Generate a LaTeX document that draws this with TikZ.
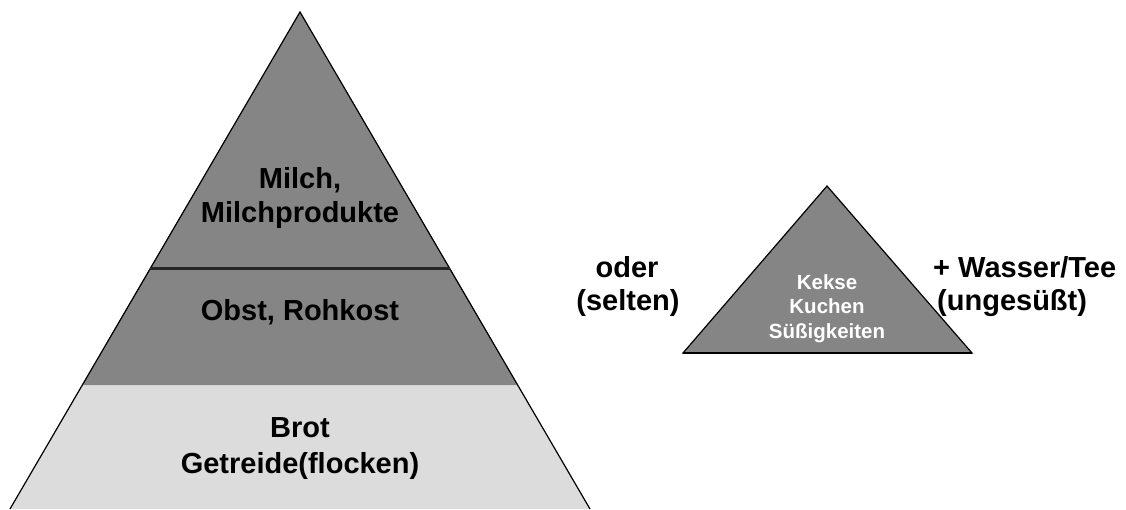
\documentclass[tikz,border=0pt]{standalone}
\usepackage{fontspec}
\setmainfont{Liberation Sans}
\usetikzlibrary{positioning}
\definecolor{pyrgray}{HTML}{858585}
\definecolor{pyrlight}{HTML}{DCDCDC}
\tikzset{
  big/.style={font=\fontsize{29}{34}\selectfont\bfseries, inner sep=0pt, anchor=base},
  small/.style={font=\fontsize{20.5}{24}\selectfont\bfseries, text=white, inner sep=0pt, anchor=base},
  edge/.style={draw=black, line width=1.2pt, line join=miter}
}

\begin{document}
\begin{tikzpicture}[x=1pt, y=-1pt]
\useasboundingbox (0,0) rectangle (1126,509);

% big pyramid
\coordinate (apex) at (300,12);
\coordinate (tl) at (150,268);
\coordinate (tr) at (450,268);
\coordinate (ml) at (82,385);
\coordinate (mr) at (518,385);
\coordinate (bl) at (10,509);
\coordinate (br) at (590,509);

\fill[pyrlight] (ml) -- (mr) -- (br) -- (bl) -- cycle;
\fill[pyrgray] (tl) -- (tr) -- (mr) -- (ml) -- cycle;
\fill[pyrgray] (apex) -- (tr) -- (tl) -- cycle;
\draw[edge] (bl) -- (apex) -- (br);
\draw[line width=3pt, draw=black!85] (tl) -- (tr);

\node[big] (milch1) at (300,188) {Milch,};
\node[big] (milch2) at (300,222) {Milchprodukte};
\node[big] (obst) at (300,320) {Obst, Rohkost};
\node[big] (brot1) at (300,437) {Brot};
\node[big] (brot2) at (300,473) {Getreide(flocken)};

% small pyramid
\coordinate (sapex) at (827,186);
\coordinate (sl) at (683,353);
\coordinate (sr) at (972,353);
\draw[edge, fill=pyrgray] (sapex) -- (sr) -- (sl) -- cycle;
\draw[line width=2pt] (sl) -- (sr);

\node[small] (kekse) at (827,289) {Kekse};
\node[small] (kuchen) at (827,313) {Kuchen};
\node[small] (suess) at (827,338) {Süßigkeiten};

\node[big] (oder) at (627,277) {oder};
\node[big] (selten) at (628,310) {(selten)};
\node[big, anchor=base west] (wasser) at (933,277) {+ Wasser/Tee};
\node[big, anchor=base west] (ungesuesst) at (937,310) {(ungesüßt)};
\end{tikzpicture}
\end{document}
